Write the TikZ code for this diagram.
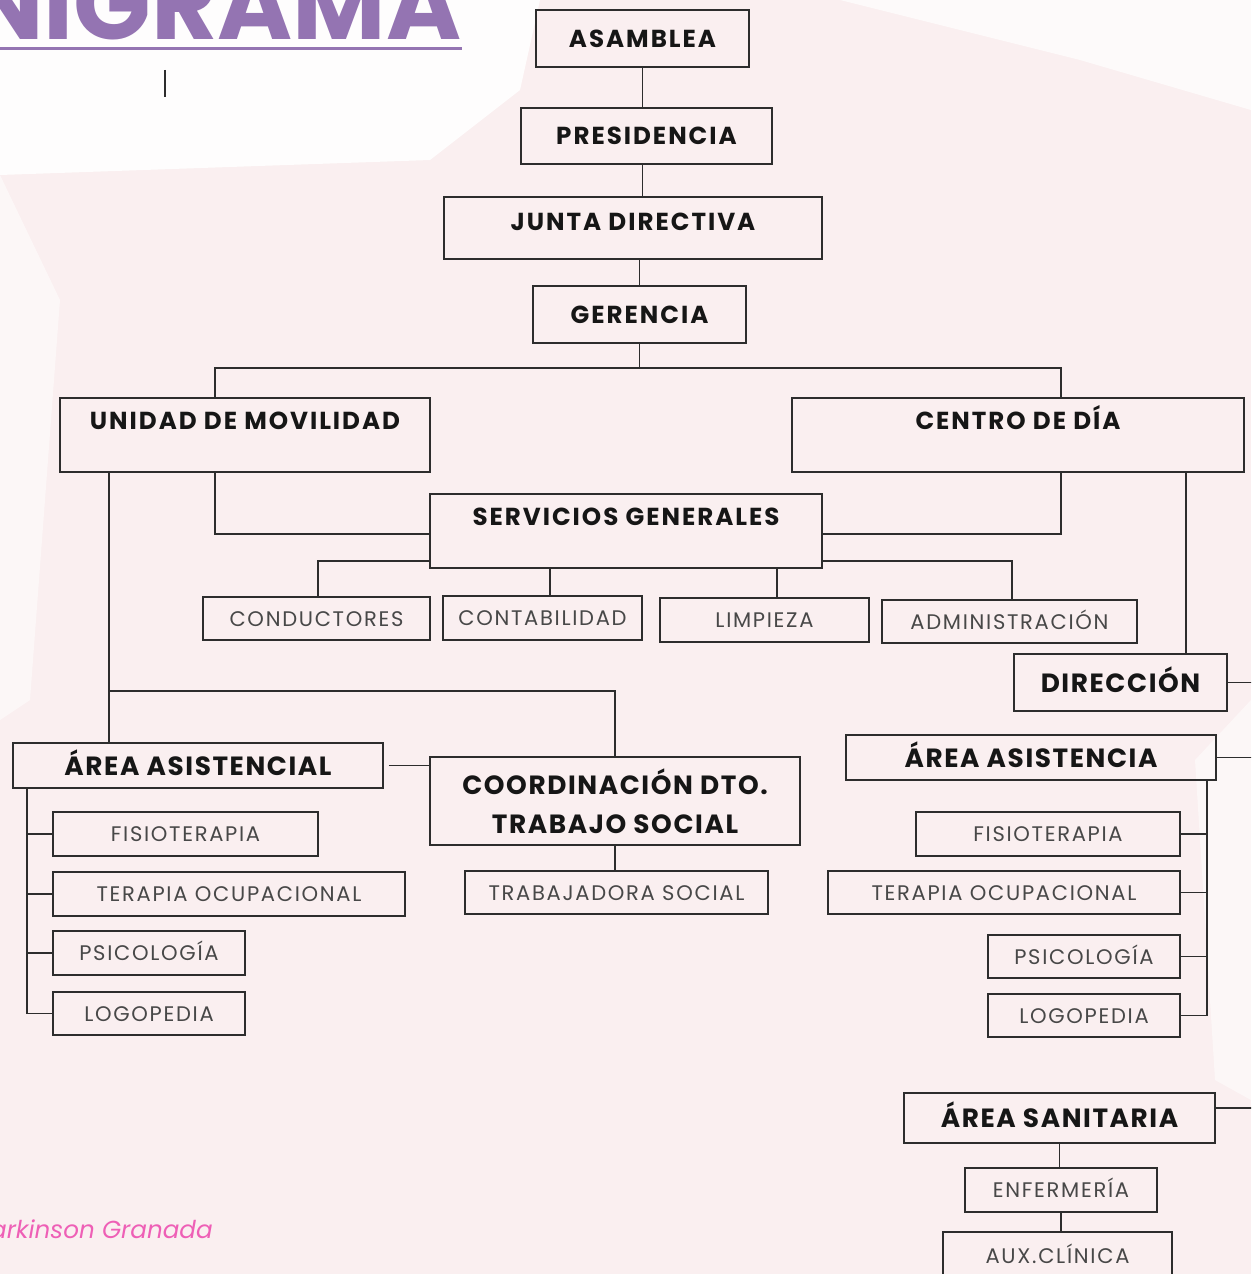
\documentclass[tikz,border=0pt]{standalone}
\usepackage{fontspec}
\setmainfont{Poppins}

\definecolor{linea}{RGB}{45,45,45}
\definecolor{tinta}{RGB}{22,22,22}
\definecolor{gris}{RGB}{72,72,72}
\definecolor{fondo}{RGB}{250,239,240}
\definecolor{morado}{RGB}{148,116,178}
\definecolor{rosa}{RGB}{238,95,182}

\tikzset{
  marco/.style={draw=linea, line width=1pt, rectangle, inner sep=0pt, align=center},
  caja/.style={marco, text=tinta, font=\bfseries\fontsize{14}{16}\selectfont\addfontfeatures{LetterSpace=8}, text height=0.35cm, text depth=0cm},
  cajagrande/.style={caja, font=\bfseries\fontsize{15}{17}\selectfont\addfontfeatures{LetterSpace=6}, text height=0.38cm},
  puesto/.style={marco, text=gris, font=\fontsize{12}{14}\selectfont\addfontfeatures{LetterSpace=8}, text height=0.30cm, text depth=0cm},
  conector/.style={draw=linea, line width=1pt},
}

\begin{document}
\begin{tikzpicture}[x=0.02cm,y=-0.02cm]
            \useasboundingbox (0,0) rectangle (1251,1274);
            \clip (0,0) rectangle (1251,1274);

            % Drawing background
            \fill[fondo] (0,0) rectangle (1251,1274);
            \fill[white, opacity=0.9] (0,0) -- (540,0) -- (520,90) -- (430,160) -- (0,175) -- cycle;
            \fill[white, opacity=0.7] (840,0) -- (1251,0) -- (1251,110) -- (1080,60) -- cycle;
            \fill[white, opacity=0.5] (0,175) -- (60,300) -- (30,700) -- (0,720) -- cycle;
            \fill[white, opacity=0.5] (1251,700) -- (1195,760) -- (1215,1080) -- (1251,1100) -- cycle;

            % Drawing title
            \node[anchor=base east, text=morado, inner sep=0pt, font=\bfseries\fontsize{58}{60}\selectfont] (titulo) at (462,40) {ORGANIGRAMA};
            \draw[morado, line width=0.06cm] (0,48.5) -- (462,48.5);%
            \draw[linea, line width=0.6pt] (165,70) -- (165,97);%

            % Drawing footer
            \node[anchor=base east, text=rosa, inner sep=0pt, font=\itshape\fontsize{14}{16}\selectfont] (pie) at (213,1238) {Parkinson Granada};

            % Drawing boxes top
            \node[caja, minimum width=4.26cm, minimum height=1.14cm] (asamblea) at (642.5,38.5) {ASAMBLEA};
            \node[caja, minimum width=5.02cm, minimum height=1.12cm] (presidencia) at (646.5,136) {PRESIDENCIA};
            \node[caja, minimum width=7.56cm, minimum height=1.24cm, text depth=0.24cm] (junta) at (633,228) {JUNTA DIRECTIVA};
            \node[caja, minimum width=4.26cm, minimum height=1.14cm] (gerencia) at (639.5,314.5) {GERENCIA};

            % Drawing boxes second level
            \node[caja, minimum width=7.40cm, minimum height=1.48cm, text depth=0.56cm] (unidad) at (245,435) {UNIDAD DE MOVILIDAD};
            \node[caja, minimum width=9.04cm, minimum height=1.48cm, text depth=0.56cm] (centro) at (1018,435) {CENTRO DE DÍA};
            \node[caja, minimum width=7.84cm, minimum height=1.48cm, text depth=0.56cm] (servicios) at (626,531) {SERVICIOS GENERALES};

            % Drawing boxes servicios generales
            \node[puesto, minimum width=4.54cm, minimum height=0.86cm] (conductores) at (316.5,618.5) {CONDUCTORES};
            \node[puesto, minimum width=3.98cm, minimum height=0.88cm] (contabilidad) at (542.5,618) {CONTABILIDAD};
            \node[puesto, minimum width=4.18cm, minimum height=0.88cm] (limpieza) at (764.5,620) {LIMPIEZA};
            \node[puesto, minimum width=5.10cm, minimum height=0.86cm] (administracion) at (1009.5,621.5) {ADMINISTRACIÓN};

            % Drawing boxes unidad de movilidad
            \node[cajagrande, minimum width=7.40cm, minimum height=0.90cm] (asistencial) at (198,765.5) {ÁREA ASISTENCIAL};
            \node[marco, text=tinta, font=\bfseries\fontsize{15}{22.5}\selectfont\addfontfeatures{LetterSpace=6}, minimum width=7.40cm, minimum height=1.76cm] (coordinacion) at (615,801) {COORDINACIÓN DTO.\\TRABAJO SOCIAL};
            \node[puesto, minimum width=6.06cm, minimum height=0.86cm] (trabajadora) at (616.5,892.5) {TRABAJADORA SOCIAL};
            \node[puesto, minimum width=5.30cm, minimum height=0.88cm] (fisioI) at (185.5,834) {FISIOTERAPIA};
            \node[puesto, minimum width=7.04cm, minimum height=0.88cm] (terapiaI) at (229,894) {TERAPIA OCUPACIONAL};
            \node[puesto, minimum width=3.84cm, minimum height=0.88cm] (psicoI) at (149,953) {PSICOLOGÍA};
            \node[puesto, minimum width=3.84cm, minimum height=0.86cm] (logoI) at (149,1013.5) {LOGOPEDIA};

            % Drawing boxes centro de dia
            \node[cajagrande, minimum width=4.26cm, minimum height=1.14cm] (direccion) at (1120.5,682.5) {DIRECCIÓN};
            \node[cajagrande, minimum width=7.40cm, minimum height=0.90cm] (asistencia) at (1031,757.5) {ÁREA ASISTENCIA};
            \node[puesto, minimum width=5.28cm, minimum height=0.88cm] (fisioD) at (1048,834) {FISIOTERAPIA};
            \node[puesto, minimum width=7.04cm, minimum height=0.86cm] (terapiaD) at (1004,892.5) {TERAPIA OCUPACIONAL};
            \node[puesto, minimum width=3.84cm, minimum height=0.86cm] (psicoD) at (1084,956.5) {PSICOLOGÍA};
            \node[puesto, minimum width=3.84cm, minimum height=0.86cm] (logoD) at (1084,1015.5) {LOGOPEDIA};
            \node[cajagrande, minimum width=6.22cm, minimum height=1.00cm] (sanitaria) at (1059.5,1118) {ÁREA SANITARIA};
            \node[puesto, minimum width=3.84cm, minimum height=0.88cm] (enfermeria) at (1061,1190) {ENFERMERÍA};
            \node[puesto, minimum width=4.58cm, minimum height=1.16cm, text depth=0.2cm] (aux) at (1057.5,1261) {AUX.CLÍNICA};

            % Drawing elbow points
            \coordinate (barI) at (215,368);
            \coordinate (barD) at (1061,368);
            \coordinate (svI) at (215,534);
            \coordinate (svD) at (1061,534);
            \coordinate (cdI) at (318,561);
            \coordinate (adD) at (1012,561);
            \coordinate (ct) at (550,580);
            \coordinate (lp) at (777,580);
            \coordinate (asI) at (109,691);
            \coordinate (hI) at (27,800);
            \coordinate (dr) at (1186,500);
            \coordinate (hD) at (1207,800);
            \coordinate (fuera) at (1260,0);

            % Drawing segment asamblea presidencia junta gerencia
            \draw[conector] (asamblea.south) -- (asamblea.south |- presidencia.north);%
            \draw[conector] (presidencia.south -| asamblea.south) -- (junta.north -| asamblea.south);%
            \draw[conector] (junta.south -| gerencia.south) -- (gerencia.north);%

            % Drawing segment gerencia unidad centro
            \draw[conector] (gerencia.south) -- (gerencia.south |- barI);%
            \draw[conector] (unidad.north -| barI) -- (barI) -- (barD) -- (centro.north -| barD);%

            % Drawing segment unidad centro servicios
            \draw[conector] (unidad.south -| svI) -- (svI) -- (svI -| servicios.west);%
            \draw[conector] (centro.south -| svD) -- (svD) -- (svD -| servicios.east);%

            % Drawing segment servicios puestos
            \draw[conector] (servicios.west |- cdI) -- (cdI) -- (cdI |- conductores.north);%
            \draw[conector] (servicios.east |- adD) -- (adD) -- (adD |- administracion.north);%
            \draw[conector] (servicios.south -| ct) -- (contabilidad.north -| ct);%
            \draw[conector] (servicios.south -| lp) -- (limpieza.north -| lp);%

            % Drawing segment unidad asistencial coordinacion
            \draw[conector] (unidad.south -| asI) -- (asistencial.north -| asI);%
            \draw[conector] (asI) -- (asI -| coordinacion.north) -- (coordinacion.north);%
            \draw[conector] (asistencial.east) ++(5,0) -- (asistencial.east -| coordinacion.west);%
            \draw[conector] (coordinacion.south) -- (coordinacion.south |- trabajadora.north);%

            % Drawing segment asistencial puestos
            \draw[conector] (asistencial.south -| hI) -- (hI |- logoI.west) -- (logoI.west);%
            \draw[conector] (hI |- fisioI.west) -- (fisioI.west);%
            \draw[conector] (hI |- terapiaI.west) -- (terapiaI.west);%
            \draw[conector] (hI |- psicoI.west) -- (psicoI.west);%

            % Drawing segment centro direccion
            \draw[conector] (centro.south -| dr) -- (direccion.north -| dr);%
            \draw[conector] (direccion.east) -- (direccion.east -| fuera);%
            \draw[conector] (asistencia.east) -- (asistencia.east -| fuera);%

            % Drawing segment asistencia puestos
            \draw[conector] (asistencia.south -| hD) -- (hD |- logoD.east) -- (logoD.east);%
            \draw[conector] (hD |- fisioD.east) -- (fisioD.east);%
            \draw[conector] (hD |- terapiaD.east) -- (terapiaD.east);%
            \draw[conector] (hD |- psicoD.east) -- (psicoD.east);%

            % Drawing segment sanitaria enfermeria aux
            \draw[conector] ([yshift=0.2cm]sanitaria.east) -- ([yshift=0.2cm]sanitaria.east -| fuera);%
            \draw[conector] (sanitaria.south) -- (sanitaria.south |- enfermeria.north);%
            \draw[conector] (enfermeria.south) -- (enfermeria.south |- aux.north);%
\end{tikzpicture}
\end{document}
